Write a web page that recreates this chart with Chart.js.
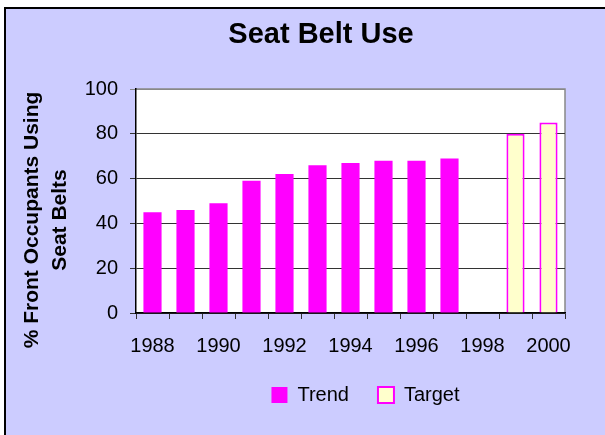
<!DOCTYPE html>
<html>
<head>
<meta charset="utf-8">
<script src="https://cdn.jsdelivr.net/npm/chart.js@4"></script>
<style>
  html, body { margin: 0; padding: 0; background: #ffffff; width: 605px; height: 435px; overflow: hidden; }
  #frame { position: absolute; left: 4px; top: 7px; width: 599px; height: 426px;
           border-left: 2px solid #000; border-top: 2px solid #000; background: #CCCCFF; }
  #c { display: block; }
</style>
</head>
<body>
<div id="frame"><canvas id="c" width="599" height="426"></canvas></div>
<script>
const years = ['1988','1989','1990','1991','1992','1993','1994','1995','1996','1997','1998','1999','2000'];
const trendValues = [45, 46, 49, 59, 62, 66, 67, 68, 68, 69, null, null, null];
const targetValues = [null, null, null, null, null, null, null, null, null, null, null, 80, 85];
const yTicks = [0, 20, 40, 60, 80, 100];
const chartTitle = 'Seat Belt Use';
const yTitle = ['% Front Occupants Using', 'Seat Belts'];

const FONT = "'Liberation Sans', Arial, sans-serif";

const plotBg = {
  id: 'plotBg',
  beforeDraw(chart) {
    const {ctx, chartArea: a} = chart;
    ctx.save();
    ctx.fillStyle = '#ffffff';
    ctx.fillRect(a.left, a.top, a.right - a.left, a.bottom - a.top);
    ctx.strokeStyle = '#888888';
    ctx.lineWidth = 1.5;
    ctx.beginPath();
    ctx.moveTo(a.left, a.top); ctx.lineTo(a.right, a.top); ctx.lineTo(a.right, a.bottom);
    ctx.stroke();
    ctx.restore();
  }
};

const boxShift = {
  id: 'boxShift',
  afterLayout(chart) {
    const dl = 80;
    chart.legend.left += dl;
    chart.legend.right += dl;
    const dt = 35.5;
    chart.titleBlock.left += dt;
    chart.titleBlock.right += dt;
    const ys = chart.scales.y;
    if (!ys._titleWrapped) {
      const orig = ys.drawTitle;
      ys.drawTitle = function() {
        const ctx = this.ctx;
        ctx.save();
        ctx.translate(0, 19);
        orig.apply(this, arguments);
        ctx.restore();
      };
      ys._titleWrapped = true;
    }
  }
};

new Chart(document.getElementById('c'), {
  type: 'bar',
  data: {
    labels: years,
    datasets: [
      { label: 'Trend', data: trendValues, backgroundColor: '#FF00FF', borderWidth: 0, grouped: false,
        barPercentage: 0.55, categoryPercentage: 1.0 },
      { label: 'Target', data: targetValues, backgroundColor: '#FFFFCC', borderColor: '#FF00FF', borderWidth: 2,
        grouped: false, barPercentage: 0.55, categoryPercentage: 1.0 }
    ]
  },
  options: {
    responsive: false,
    animation: false,
    devicePixelRatio: 1,
    layout: { padding: { left: 0, right: 40, top: 0, bottom: 20 } },
    plugins: {
      title: { display: true, text: chartTitle, color: '#000',
               font: { family: FONT, size: 29, weight: 'bold', lineHeight: 1.2 },
               padding: { top: 8.3, bottom: 36.9 } },
      legend: { display: true, position: 'bottom', align: 'center', maxHeight: 59,
                labels: { color: '#000', font: { family: FONT, size: 20 }, boxWidth: 16, boxHeight: 16,
                          padding: 29 } },
      tooltip: { enabled: false }
    },
    scales: {
      x: {
        grid: { offset: true, drawOnChartArea: false, drawTicks: true, tickLength: 6, color: '#333' },
        border: { color: '#000', width: 1.5 },
        ticks: { autoSkip: false, maxRotation: 0, minRotation: 0, padding: 15, color: '#000',
                 font: { family: FONT, size: 20 },
                 callback: function(v, i) { return i % 2 === 0 ? years[i] : ''; } },
        afterFit(s) { s.height = 43; }
      },
      y: {
        min: 0, max: 100,
        afterBuildTicks(s) { s.ticks = yTicks.map(v => ({ value: v })); },
        grid: { color: function(c) { return c.tick && c.tick.value === 100 ? '#888' : '#333'; },
                lineWidth: 1, tickLength: 6, drawTicks: true },
        border: { color: '#000', width: 1.5 },
        ticks: { padding: 12, color: '#000', font: { family: FONT, size: 20 } },
        title: { display: true, text: yTitle, color: '#000',
                 font: { family: FONT, size: 21, weight: 'bold', lineHeight: 1.33 },
                 padding: { top: 12, bottom: 0 } },
        afterFit(s) { s.width = 130; }
      }
    }
  },
  plugins: [plotBg, boxShift]
});
</script>
</body>
</html>
